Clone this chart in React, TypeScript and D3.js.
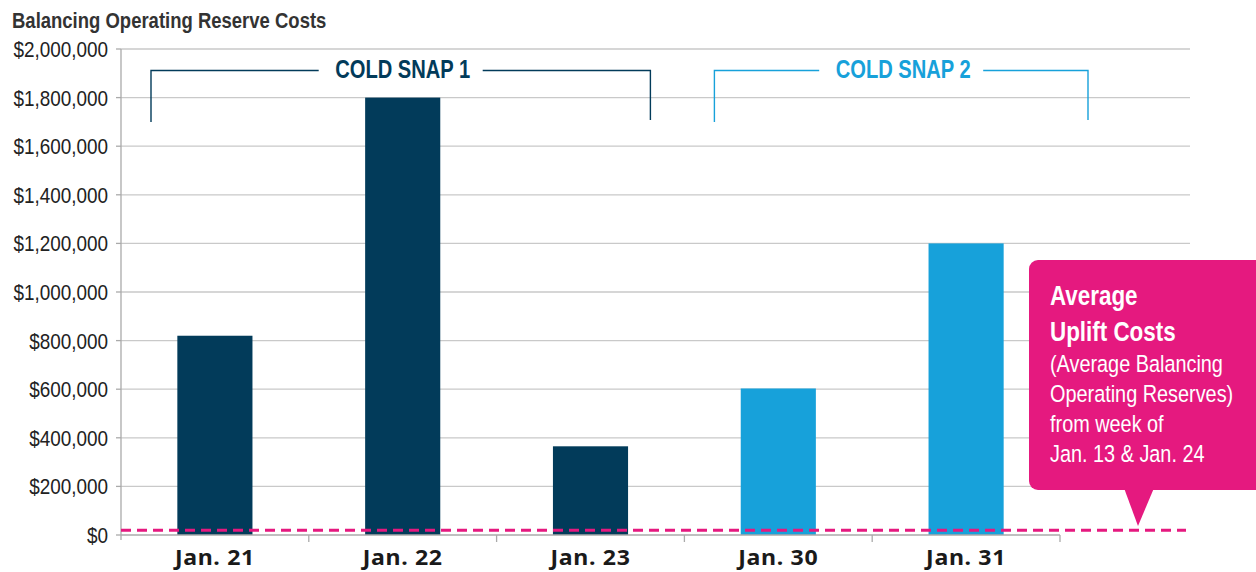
import React from "react";
import * as d3 from "d3";

const categories = ["Jan. 21", "Jan. 22", "Jan. 23", "Jan. 30", "Jan. 31"];
const values = [820000, 1800000, 365000, 603000, 1200000];
const snapOf = [1, 1, 1, 2, 2];
const yTicks = [0, 200000, 400000, 600000, 800000, 1000000, 1200000, 1400000, 1600000, 1800000, 2000000];
const averageUplift = 20000;
const snaps = [
  { label: "COLD SNAP 1", from: "Jan. 21", to: "Jan. 23", id: 1 },
  { label: "COLD SNAP 2", from: "Jan. 30", to: "Jan. 31", id: 2 },
];
const calloutBold = ["Average", "Uplift Costs"];
const calloutLines = ["(Average Balancing", "Operating Reserves)", "from week of", "Jan. 13 & Jan. 24"];

const DARK = "#023b5a";
const LIGHT = "#17a1da";
const PINK = "#e5197f";
const FONT = "'Liberation Sans', Arial, sans-serif";

function CText(props: {
  x: number; y: number; sx: number; anchor?: string; size: number; bold?: boolean; fill: string;
  children: React.ReactNode; spacing?: number;
}) {
  const { x, y, sx, anchor = "start", size, bold, fill, children, spacing = 0 } = props;
  return (
    <text transform={`translate(${x},${y}) scale(${sx},1)`} textAnchor={anchor} fontFamily={FONT}
      fontSize={size} fontWeight={bold ? "bold" : "normal"} fill={fill} letterSpacing={spacing}>
      {children}
    </text>
  );
}

export default function App() {
  const W = 1256, H = 572;
  const band = d3.scaleBand<string>().domain(categories).range([121, 1060]);
  const x = d3.scaleBand<string>().domain(categories).range([121, 1060]).paddingInner(0.6).paddingOuter(0.3);
  const y = d3.scaleLinear().domain([0, 2000000]).range([535, 49]);
  const fmt = (v: number) => "$" + d3.format(",")(v);
  const gridRight = 1190;

  return (
    <svg width={W} height={H} style={{ position: "absolute", left: 0, top: 0, background: "#fff" }}>
      <CText x={12} y={28} sx={0.86} size={21.5} bold fill="#333">Balancing Operating Reserve Costs</CText>
      {yTicks.map((t) => (
        <g key={t}>
          {t > 0 && <line x1={121} x2={gridRight} y1={y(t)} y2={y(t)} stroke="#c9c9c9" strokeWidth={1.3} />}
          <line x1={116} x2={121} y1={y(t)} y2={y(t)} stroke="#aaa" strokeWidth={1.3} />
          <CText x={108} y={y(t) + 8} sx={0.86} anchor="end" size={22} fill="#222">{fmt(t)}</CText>
        </g>
      ))}
      <line x1={121} x2={121} y1={49} y2={540} stroke="#aaa" strokeWidth={1.3} />
      {values.map((v, i) => (
        <rect key={i} x={x(categories[i])} width={x.bandwidth()} y={y(v)} height={y(0) - y(v)}
          fill={snapOf[i] === 1 ? DARK : LIGHT} />
      ))}
      <line x1={121} x2={1060} y1={535} y2={535} stroke="#aaa" strokeWidth={1.3} />
      {categories.map((c) => {
        const bx = (band(c) as number) + band.bandwidth();
        return <line key={c} x1={bx} x2={bx} y1={535} y2={542} stroke="#aaa" strokeWidth={1.3} />;
      })}
      {categories.map((c) => (
        <text key={c} transform={`translate(${(x(c) as number) + x.bandwidth() / 2},565) scale(1.1,1)`} textAnchor="middle"
          fontFamily="'Noto Sans', sans-serif" fontWeight="bold" fontSize={21} fill="#1a1a1a" letterSpacing={0.6}>
          {c}
        </text>
      ))}
      {snaps.map((s) => {
        const color = s.id === 1 ? DARK : LIGHT;
        const x0 = (band(s.from) as number) + 30;
        const x1 = s.id === 1 ? (band(s.to) as number) + band.bandwidth() - 34 : (band(s.to) as number) + band.bandwidth() + 28;
        const cx = (x0 + x1) / 2;
        const half = 82;
        return (
          <g key={s.id}>
            <path d={`M${x0},122 V70.5 H${cx - half}`} fill="none" stroke={color} strokeWidth={1.4} />
            <path d={`M${cx + half},70.5 H${x1} V120`} fill="none" stroke={color} strokeWidth={1.4} />
            <text x={cx + 2} y={78} textAnchor="middle" fontFamily={FONT} fontWeight="bold" fontSize={25}
              fill={color} textLength={135} lengthAdjust="spacingAndGlyphs">
              {s.label}
            </text>
          </g>
        );
      })}
      <line x1={121} x2={1186} y1={y(averageUplift)} y2={y(averageUplift)} stroke={PINK} strokeWidth={3} strokeDasharray="10,6" />
      <g>
        <rect x={1029} y={260} width={240} height={230} rx={9} fill={PINK} />
        <path d="M1124,488 L1154,488 L1138,526 Z" fill={PINK} />
        {calloutBold.map((t, i) => (
          <CText key={t} x={1050} y={305 + i * 35.5} sx={0.8} size={28} bold fill="#fff">{t}</CText>
        ))}
        {calloutLines.map((t, i) => (
          <CText key={t} x={1050} y={372 + i * 30} sx={0.845} size={23.5} fill="#fff">{t}</CText>
        ))}
      </g>
    </svg>
  );
}
